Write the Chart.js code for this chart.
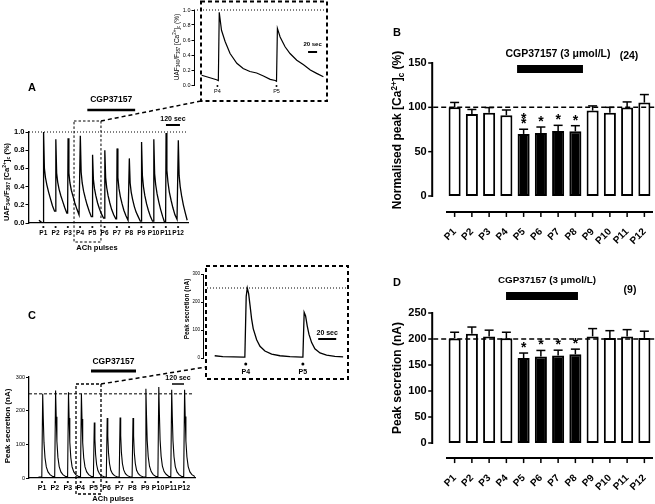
<!DOCTYPE html>
<html>
<head>
<meta charset="utf-8">
<script src="https://cdn.jsdelivr.net/npm/chart.js@4"></script>
<style>
  html, body { margin: 0; padding: 0; background: #fff; }
  #wrap { position: relative; width: 655px; height: 504px; overflow: hidden; }
  canvas { position: absolute; left: 0; top: 0; }
</style>
</head>
<body>
<div id="wrap">
  <canvas id="chartA" width="655" height="504"></canvas>
  <canvas id="chartAInset" width="655" height="504"></canvas>
  <canvas id="chartB" width="655" height="504"></canvas>
  <canvas id="chartC" width="655" height="504"></canvas>
  <canvas id="chartCInset" width="655" height="504"></canvas>
  <canvas id="chartD" width="655" height="504"></canvas>
</div>
<script>
// ---------- data ----------
const pulseLabels = ['P1', 'P2', 'P3', 'P4', 'P5', 'P6', 'P7', 'P8', 'P9', 'P10', 'P11', 'P12'];
const drugPulses = ['P5', 'P6', 'P7', 'P8'];
const drugName = 'CGP37157';
const drugLabel = 'CGP37157 (3 \u03bcmol/L)';

// A: UAF340/F387 trace, time in s, one row per ACh pulse (values at aOffsets after the pulse)
const aPulseTimes = [123, 228, 333, 438, 543, 648, 753, 858, 963, 1068, 1173, 1278];
const aOffsets = [-2, 2, 9, 18, 30, 45, 60, 78, 96];
const aTrace = [
  [0.00, 1.00, 0.60, 0.50, 0.42, 0.34, 0.27, 0.19, 0.13],
  [0.13, 0.92, 0.55, 0.45, 0.37, 0.30, 0.24, 0.17, 0.11],
  [0.11, 0.93, 0.55, 0.44, 0.36, 0.29, 0.22, 0.15, 0.09],
  [0.09, 0.96, 0.56, 0.44, 0.35, 0.27, 0.20, 0.13, 0.07],
  [0.07, 0.75, 0.48, 0.38, 0.30, 0.22, 0.16, 0.10, 0.055],
  [0.055, 0.80, 0.50, 0.39, 0.30, 0.22, 0.15, 0.09, 0.045],
  [0.045, 0.82, 0.50, 0.38, 0.29, 0.21, 0.14, 0.08, 0.03],
  [0.03, 0.71, 0.44, 0.34, 0.26, 0.18, 0.12, 0.07, 0.02],
  [0.02, 0.89, 0.52, 0.40, 0.30, 0.21, 0.14, 0.07, 0.02],
  [0.02, 0.92, 0.54, 0.42, 0.32, 0.23, 0.15, 0.07, 0.00],
  [0.00, 0.99, 0.58, 0.45, 0.34, 0.25, 0.17, 0.09, 0.04],
  [0.04, 0.91, 0.52, 0.40, 0.30, 0.20, 0.12, 0.03, null]
];
const aLeadTime = [85, 105];
const aLeadValue = [0.03, 0.01];
const aRef = 1.0;
const aDrugWindow = [500, 910];
const aZoomWindow = [386, 617];
const aScaleBarStart = 1174; // 120 sec bar

// A inset: P4 and P5 responses
const aInsetTime = [17, 50, 54, 56, 61, 69, 80, 95, 109, 124, 139, 154, 169, 180, 183, 185, 191, 202, 213, 228, 243, 258, 272, 287];
const aInsetValue = [0.13, 0.07, 0.06, 0.97, 0.73, 0.58, 0.42, 0.29, 0.22, 0.18, 0.16, 0.12, 0.075, 0.06, 0.05, 0.755, 0.64, 0.51, 0.42, 0.33, 0.27, 0.20, 0.155, 0.11];
const aInsetPulses = [52, 183];
const aInsetLabels = ['P4', 'P5'];
const aInsetBarStart = 253; // 20 sec bar

// B: normalised peak [Ca2+]c (%)
const bMean = [100, 92.6, 94, 91, 70, 71, 73.3, 72.9, 96.3, 94, 99.7, 105.4];
const bSem = [5.5, 5, 5.7, 6, 5.3, 6.8, 6.4, 6.4, 5.3, 6, 6.4, 9];
const bStars = ['', '', '', '', '**', '*', '*', '*', '', '', '', ''];
const bRef = 100;
const bN = '(24)';

// C: secretion trace (nA), time in s
const cPulseTimes = [130, 259, 388, 517, 646, 775, 904, 1033, 1162, 1291, 1420, 1549];
const cOffsets = [-2, 7, 13, 20, 30, 43, 60, 80, 110];
const cTrace = [
  [3, 250, 175, 105, 60, 33, 18, 10, 4],
  [4, 260, 182, 109, 62, 34, 18, 10, 4],
  [4, 255, 178, 107, 61, 33, 18, 10, 4],
  [4, 250, 175, 105, 60, 33, 18, 10, 4],
  [4, 165, 116, 70, 40, 22, 12, 7, 3],
  [3, 178, 125, 75, 43, 23, 13, 7, 3],
  [3, 180, 126, 76, 43, 24, 13, 7, 3],
  [3, 178, 125, 75, 43, 23, 13, 7, 3],
  [3, 265, 186, 111, 64, 35, 19, 10, 4],
  [4, 270, 189, 113, 65, 35, 19, 11, 4],
  [4, 262, 183, 110, 63, 34, 18, 10, 4],
  [4, 262, 183, 110, 63, 34, 18, 10, 4]
];
const cLeadTime = [95];
const cLeadValue = [3];
const cRef = 250;
const cDrugWindow = [620, 1070];
const cZoomWindow = [470, 720];
const cScaleBarStart = 1430;

// C inset
const cInsetTime = [13, 22, 34, 45, 46.5, 48, 49.2, 50.7, 52.2, 54, 55.8, 59.6, 63.3, 68.8, 76.3, 85.5, 96.6, 109.6, 111, 112.4, 114, 115.8, 117.7, 120.7, 124.3, 130, 137.3, 146.5, 155.7];
const cInsetValue = [8, 5, 4, 3, 3, 220, 250, 230, 190, 140, 105, 65, 42, 25, 14, 8, 5, 3, 3, 163, 150, 115, 85, 55, 33, 18, 10, 6, 4];
const cInsetPulses = [47.5, 111];
const cInsetLabels = ['P4', 'P5'];
const cInsetBarStart = 128;

// D: peak secretion (nA)
const dMean = [201, 210, 205, 201.5, 163.5, 166.5, 168.5, 170.5, 205, 202, 205, 202];
const dSem = [12, 13, 12, 11.5, 9.5, 11.5, 10, 10, 15, 14, 13, 13];
const dStars = ['', '', '', '', '*', '*', '*', '*', '', '', '', ''];
const dRef = 200;
const dN = '(9)';

// ---------- helpers ----------
const FONT = 'Arial, "Liberation Sans", Helvetica, sans-serif';
Chart.defaults.font.family = FONT;
Chart.defaults.color = '#000';

function line(ctx, x1, y1, x2, y2, w, dash) {
  ctx.save();
  ctx.strokeStyle = '#000';
  ctx.lineWidth = w;
  ctx.setLineDash(dash || []);
  ctx.beginPath();
  ctx.moveTo(x1, y1);
  ctx.lineTo(x2, y2);
  ctx.stroke();
  ctx.restore();
}
function box(ctx, l, t, r, b, w, dash) {
  ctx.save();
  ctx.strokeStyle = '#000';
  ctx.lineWidth = w;
  ctx.setLineDash(dash || []);
  ctx.strokeRect(l, t, r - l, b - t);
  ctx.restore();
}
function text(ctx, s, x, y, size, weight, rot, align) {
  ctx.save();
  ctx.fillStyle = '#000';
  ctx.font = (weight || 'bold') + ' ' + size + 'px ' + FONT;
  ctx.textAlign = align || 'center';
  ctx.textBaseline = 'middle';
  ctx.translate(x, y);
  if (rot) ctx.rotate(-Math.PI / 2);
  ctx.fillText(s, 0, 0);
  ctx.restore();
}
// rotated text with sub/superscripts
function rich(ctx, parts, x, y, size, weight) {
  ctx.save();
  ctx.fillStyle = '#000';
  ctx.translate(x, y);
  ctx.rotate(-Math.PI / 2);
  ctx.textAlign = 'left';
  ctx.textBaseline = 'middle';
  let total = 0;
  const runs = parts.map(([s, k]) => {
    const f = weight + ' ' + (k === 'n' ? size : size * 0.68) + 'px ' + FONT;
    ctx.font = f;
    const w = ctx.measureText(s).width;
    total += w;
    return { s, k, f, w };
  });
  let cx = -total / 2;
  runs.forEach(r => {
    ctx.font = r.f;
    const dy = r.k === 'sub' ? size * 0.3 : r.k === 'sup' ? -size * 0.3 : 0;
    ctx.fillText(r.s, cx, dy);
    cx += r.w;
  });
  ctx.restore();
}
// pulse dot + label under the time axis
function pulseMarks(ctx, x, times, labels, yDot, yLab, size, r, weight) {
  times.forEach((t, i) => {
    const px = x.getPixelForValue(t);
    ctx.save();
    ctx.fillStyle = '#000';
    ctx.beginPath();
    ctx.arc(px, yDot, r, 0, 2 * Math.PI);
    ctx.fill();
    ctx.restore();
    text(ctx, labels[i], px, yLab, size, weight);
  });
}
function buildTrace(leadT, leadV, times, offsets, rows) {
  const pts = leadT.map((t, i) => ({ x: t, y: leadV[i] }));
  rows.forEach((row, i) => row.forEach((v, j) => {
    if (v !== null) pts.push({ x: times[i] + offsets[j], y: v });
  }));
  return pts;
}
function fixSize(size) {
  return function (s) {
    if (size !== undefined) {
      if (s.isHorizontal()) s.height = size; else s.width = size;
    }
    s.paddingTop = s.paddingBottom = s.paddingLeft = s.paddingRight = 0;
  };
}

const caTitle = [['UAF', 'n'], ['340', 'sub'], ['/F', 'n'], ['387', 'sub'], [' [Ca', 'n'], ['2+', 'sup'], [']', 'n'], ['c', 'sub'], [' (%)', 'n']];
const bTitle = [['Normalised peak [Ca', 'n'], ['2+', 'sup'], [']', 'n'], ['c', 'sub'], [' (%)', 'n']];
const insetABox = { l: 201, t: 1.5, r: 327, b: 101 };
const insetCBox = { l: 206, t: 266, r: 348, b: 379 };

// ---------- trace charts ----------
function traceChart(id, o) {
  const xH = 10;
  return new Chart(document.getElementById(id), {
    type: 'line',
    data: {
      datasets: [{
        data: o.points,
        borderColor: '#000',
        borderWidth: o.lineWidth,
        pointRadius: 0,
        tension: 0,
        fill: false
      }]
    },
    options: {
      responsive: false,
      animation: false,
      events: [],
      layout: { padding: { left: o.area.l - o.yW, right: 655 - o.area.r, top: o.area.t, bottom: 504 - o.area.b - xH } },
      plugins: { legend: { display: false }, tooltip: { enabled: false } },
      scales: {
        x: {
          type: 'linear', min: 0, max: o.xMax,
          afterFit: fixSize(xH),
          border: { display: o.xBorder, color: '#000', width: o.axisW },
          grid: { display: false },
          ticks: { display: false }
        },
        y: {
          min: 0, max: o.yMax,
          afterFit: fixSize(o.yW),
          border: { display: true, color: '#000', width: o.axisW },
          grid: { drawOnChartArea: false, drawTicks: true, tickLength: o.tickLen, color: '#000', lineWidth: 1 },
          ticks: { stepSize: o.yStep, padding: 1, font: { size: o.yFont, weight: o.yWeight }, callback: o.yFmt }
        }
      }
    },
    plugins: [{ id: 'decor', afterDraw: o.decor }]
  });
}

traceChart('chartA', {
  points: buildTrace(aLeadTime, aLeadValue, aPulseTimes, aOffsets, aTrace),
  lineWidth: 1.3, area: { l: 29, r: 188, t: 132, b: 223 }, yW: 22,
  xMax: 1363, yMax: 1, yStep: 0.2, yFmt: v => v.toFixed(1), yFont: 7.5, yWeight: 'bold',
  xBorder: true, axisW: 1.3, tickLen: 3.5,
  decor(chart) {
    const { ctx, chartArea: a, scales: { x, y } } = chart;
    pulseMarks(ctx, x, aPulseTimes, pulseLabels, 227, 233, 6.5, 1.1, 'bold');
    const yr = y.getPixelForValue(aRef);
    line(ctx, a.left, yr, a.right, yr, 1, [1, 2]);
    const bl = x.getPixelForValue(aZoomWindow[0]), br = x.getPixelForValue(aZoomWindow[1]);
    box(ctx, bl, a.top - 11, br, a.bottom + 19, 1, [2.5, 2]);
    line(ctx, br, a.top - 11, insetABox.l, insetABox.b, 1.5, [4, 3]);
    const d0 = x.getPixelForValue(aDrugWindow[0]), d1 = x.getPixelForValue(aDrugWindow[1]);
    line(ctx, d0, 110, d1, 110, 2.5);
    text(ctx, drugName, (d0 + d1) / 2, 100, 8.5);
    const s0 = x.getPixelForValue(aScaleBarStart), s1 = x.getPixelForValue(aScaleBarStart + 120);
    line(ctx, s0, 125, s1, 125, 2);
    text(ctx, '120 sec', (s0 + s1) / 2, 119, 7);
    text(ctx, 'ACh pulses', 97, 248, 7.5);
    text(ctx, 'A', 32, 88, 11);
    rich(ctx, caTitle, 6.5, 182, 7.5, 'bold');
  }
});

traceChart('chartAInset', {
  points: aInsetTime.map((t, i) => ({ x: t, y: aInsetValue[i] })),
  lineWidth: 1.2, area: { l: 194, r: 327, t: 10, b: 85 }, yW: 14,
  xMax: 295, yMax: 1, yStep: 0.2, yFmt: v => v.toFixed(1), yFont: 5.5, yWeight: 'normal',
  xBorder: false, axisW: 1, tickLen: 2.5,
  decor(chart) {
    const { ctx, chartArea: a, scales: { x, y } } = chart;
    pulseMarks(ctx, x, aInsetPulses, aInsetLabels, 86, 91.5, 5.5, 1, 'normal');
    box(ctx, insetABox.l, insetABox.t, insetABox.r, insetABox.b, 2, [4, 3]);
    const yr = y.getPixelForValue(aRef);
    line(ctx, a.left, yr, insetABox.r, yr, 1, [1, 2]);
    const s0 = x.getPixelForValue(aInsetBarStart), s1 = x.getPixelForValue(aInsetBarStart + 20);
    line(ctx, s0, 52, s1, 52, 2);
    text(ctx, '20 sec', (s0 + s1) / 2, 44, 6);
    rich(ctx, caTitle, 177, 47, 6.5, 'normal');
  }
});

traceChart('chartC', {
  points: buildTrace(cLeadTime, cLeadValue, cPulseTimes, cOffsets, cTrace),
  lineWidth: 1.1, area: { l: 29, r: 195, t: 377, b: 478 }, yW: 22,
  xMax: 1660, yMax: 300, yStep: 100, yFmt: v => String(v), yFont: 5.5, yWeight: 'normal',
  xBorder: true, axisW: 1.3, tickLen: 3,
  decor(chart) {
    const { ctx, chartArea: a, scales: { x, y } } = chart;
    pulseMarks(ctx, x, cPulseTimes, pulseLabels, 482, 488.5, 7, 1.1, 'bold');
    const yr = y.getPixelForValue(cRef);
    line(ctx, a.left, yr, a.right - 2, yr, 1, [3, 2]);
    const bl = x.getPixelForValue(cZoomWindow[0]), br = x.getPixelForValue(cZoomWindow[1]);
    box(ctx, bl, a.top + 7, br, a.bottom + 16, 1.3, [3, 2]);
    line(ctx, br, a.top + 7, insetCBox.l, 367, 1.5, [4, 3]);
    const d0 = x.getPixelForValue(cDrugWindow[0]), d1 = x.getPixelForValue(cDrugWindow[1]);
    line(ctx, d0, 371, d1, 371, 3);
    text(ctx, drugName, (d0 + d1) / 2, 362, 8.5);
    const s0 = x.getPixelForValue(cScaleBarStart), s1 = x.getPixelForValue(cScaleBarStart + 120);
    line(ctx, s0, 384, s1, 384, 1.5);
    text(ctx, '120 sec', (s0 + s1) / 2, 378, 7);
    text(ctx, 'ACh pulses', 113, 499, 7.5);
    text(ctx, 'C', 32, 316, 11);
    text(ctx, 'Peak secretion (nA)', 8, 426, 8, 'bold', true);
  }
});

traceChart('chartCInset', {
  points: cInsetTime.map((t, i) => ({ x: t, y: cInsetValue[i] })),
  lineWidth: 1.3, area: { l: 203, r: 347, t: 274, b: 358 }, yW: 12,
  xMax: 160, yMax: 300, yStep: 100, yFmt: v => String(v), yFont: 4.5, yWeight: 'normal',
  xBorder: false, axisW: 1, tickLen: 2,
  decor(chart) {
    const { ctx, chartArea: a, scales: { x, y } } = chart;
    pulseMarks(ctx, x, cInsetPulses, cInsetLabels, 364, 372, 7, 1.5, 'bold');
    box(ctx, insetCBox.l, insetCBox.t, insetCBox.r, insetCBox.b, 2, [4, 3]);
    const yr = y.getPixelForValue(cRef);
    line(ctx, insetCBox.l + 1, yr, insetCBox.r, yr, 1, [1, 2]);
    const s0 = x.getPixelForValue(cInsetBarStart), s1 = x.getPixelForValue(cInsetBarStart + 20);
    line(ctx, s0, 339, s1, 339, 2);
    text(ctx, '20 sec', (s0 + s1) / 2, 333, 7);
    text(ctx, 'Peak secretion (nA)', 187, 309, 6.5, 'bold', true);
  }
});

// ---------- bar charts ----------
function barChart(id, o) {
  return new Chart(document.getElementById(id), {
    type: 'bar',
    data: {
      labels: pulseLabels,
      datasets: [{
        data: o.mean,
        backgroundColor: pulseLabels.map(p => drugPulses.includes(p) ? '#000' : '#fff'),
        borderColor: '#000',
        borderWidth: 2,
        borderSkipped: false,
        barPercentage: 0.7,
        categoryPercentage: 1
      }]
    },
    options: {
      responsive: false,
      animation: false,
      events: [],
      layout: { padding: { left: o.area.l, right: 655 - o.area.r, top: o.area.t, bottom: 504 - o.area.b } },
      plugins: { legend: { display: false }, tooltip: { enabled: false } },
      scales: {
        x: {
          position: { y: o.xAxisAt },
          offset: true,
          afterFit: fixSize(),
          border: { display: false },
          grid: { display: false },
          ticks: { autoSkip: false, minRotation: 45, maxRotation: 45, padding: 6, font: { size: 10, weight: 'bold' } }
        },
        y: {
          position: { x: o.yAxisAt },
          min: 0, max: o.yMax,
          afterFit: fixSize(),
          border: { display: false },
          grid: { display: false },
          ticks: { display: false, stepSize: 50 }
        }
      }
    },
    plugins: [{ id: 'decor', afterDraw: o.decor }]
  });
}

// axes, reference line, error bars and significance marks for the bar panels
function barDecor(chart, mean, sem, stars, ref, xAxisAt, yAxisAt) {
  const { ctx, chartArea: a, scales: { x, y } } = chart;
  const ax = x.getPixelForValue(yAxisAt);
  const ay = y.getPixelForValue(xAxisAt);
  line(ctx, ax, y.getPixelForValue(y.max) - 1, ax, y.getPixelForValue(0) + 1, 2);
  y.ticks.forEach(t => {
    const py = y.getPixelForValue(t.value);
    line(ctx, ax - 4, py, ax, py, 1.5);
    text(ctx, String(t.value), ax - 5.5, py, 11, 'bold', false, 'right');
  });
  line(ctx, a.left, ay, a.right, ay, 2);
  const meta = chart.getDatasetMeta(0);
  meta.data.forEach(bar => line(ctx, bar.x, ay, bar.x, ay + 5, 1.5));

  const yr = y.getPixelForValue(ref);
  line(ctx, ax + 1, yr, a.right + 2, yr, 1.5, [5, 3]);
  meta.data.forEach((bar, i) => {
    const top = y.getPixelForValue(mean[i]);
    const cap = y.getPixelForValue(mean[i] + sem[i]);
    line(ctx, bar.x, top, bar.x, cap, 1.5);
    line(ctx, bar.x - 4.5, cap, bar.x + 4.5, cap, 1.5);
    ctx.save();
    ctx.fillStyle = '#000';
    ctx.font = 'bold 14px ' + FONT;
    ctx.textAlign = 'center';
    ctx.textBaseline = 'alphabetic';
    for (let k = 0; k < stars[i].length; k++) {
      ctx.fillText('*', bar.x, cap - 1 - k * 5.5);
    }
    ctx.restore();
  });
}

barChart('chartB', {
  mean: bMean, area: { l: 446, r: 653, t: 63, b: 196 }, yMax: 150, xAxisAt: -18, yAxisAt: -1.3,
  decor(chart) {
    const { ctx, scales: { x } } = chart;
    barDecor(chart, bMean, bSem, bStars, bRef, -18, -1.3);
    text(ctx, drugLabel, 558, 54, 10.5);
    ctx.fillStyle = '#000';
    const b0 = x.getPixelForValue(3.62), b1 = x.getPixelForValue(7.44);
    ctx.fillRect(b0, 65, b1 - b0, 8);
    text(ctx, bN, 629, 56, 10.5);
    text(ctx, 'B', 397, 33, 11);
    rich(ctx, bTitle, 398, 130, 12, 'bold');
  }
});

barChart('chartD', {
  mean: dMean, area: { l: 446, r: 653, t: 313, b: 443 }, yMax: 250, xAxisAt: -29, yAxisAt: -1.3,
  decor(chart) {
    const { ctx, scales: { x } } = chart;
    barDecor(chart, dMean, dSem, dStars, dRef, -29, -1.3);
    text(ctx, drugLabel, 547, 280, 9.8);
    ctx.fillStyle = '#000';
    const b0 = x.getPixelForValue(2.98), b1 = x.getPixelForValue(7.15);
    ctx.fillRect(b0, 292, b1 - b0, 8);
    text(ctx, dN, 630, 290, 10.5);
    text(ctx, 'D', 397, 283, 11);
    text(ctx, 'Peak secretion (nA)', 398, 378, 12, 'bold', true);
  }
});
</script>
</body>
</html>
